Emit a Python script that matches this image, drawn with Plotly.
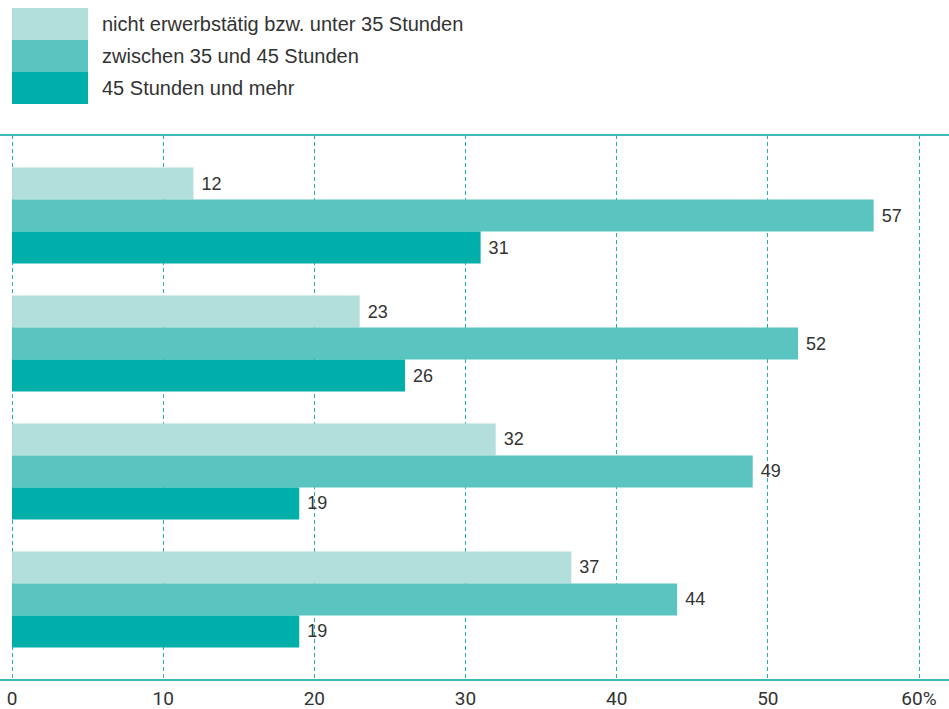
import plotly.graph_objects as go

categories = ["Gruppe 1", "Gruppe 2", "Gruppe 3", "Gruppe 4"]
series_names = ["nicht erwerbstätig bzw. unter 35 Stunden",
                "zwischen 35 und 45 Stunden",
                "45 Stunden und mehr"]
val_unter35 = [12, 23, 32, 37]
val_35_45 = [57, 52, 49, 44]
val_ueber45 = [31, 26, 19, 19]
tick_vals = [0, 10, 20, 30, 40, 50, 60]
tick_labels = ["0", "10", "20", "30", "40", "50", "60%"]

colors = ["#b2dedb", "#59c4c0", "#00aeaa"]
teal_line = "#3dbab3"
W, H = 949, 709
top_px, bot_px = 135, 680
plot_h = bot_px - top_px


def py(ypx):
    return (bot_px - ypx) / plot_h


fig = go.Figure()
for name, vals, col in zip(series_names, [val_unter35, val_35_45, val_ueber45], colors):
    fig.add_trace(go.Bar(
        y=categories, x=vals, name=name, orientation="h",
        marker=dict(color=col, line=dict(width=0)),
        text=["\u00a0" + str(v) for v in vals], textposition="outside",
        textfont=dict(family="Liberation Sans", size=18, color="#333333"),
        cliponaxis=False, showlegend=False,
    ))

# legend drawn manually
for i, (name, col) in enumerate(zip(series_names, colors)):
    y0 = 8 + 32 * i
    fig.add_shape(type="rect", xref="paper", yref="paper",
                  x0=12 / W, x1=88 / W, y0=py(y0 + 32), y1=py(y0),
                  fillcolor=col, line=dict(width=0), layer="above")
    fig.add_annotation(text=name, xref="paper", yref="paper",
                       x=100 / W, y=py(y0 + 16),
                       xanchor="left", yanchor="middle", showarrow=False,
                       font=dict(family="Liberation Sans", size=20, color="#333333"))

# top & bottom full-width lines
for yd in (1, 0):
    fig.add_shape(type="line", xref="paper", yref="paper",
                  x0=0, x1=1, y0=yd, y1=yd, line=dict(color=teal_line, width=2))

px_per = (919 - 12) / 60
fig.update_layout(
    width=W, height=H,
    margin=dict(l=0, r=0, t=top_px, b=H - bot_px),
    barmode="group", bargap=0.25, bargroupgap=0,
    plot_bgcolor="white", paper_bgcolor="white",
    xaxis=dict(range=[-12 / px_per, 60 + (W - 919) / px_per],
               tickvals=tick_vals, ticktext=tick_labels,
               showgrid=True, gridcolor="#1fb3ab", griddash="4px,3px", gridwidth=1,
               zeroline=False, showline=False, ticks="", ticklabelstandoff=5,
               tickfont=dict(family="Roboto", size=19, color="#333333")),
    yaxis=dict(range=[3.63, -0.63], showticklabels=False, showgrid=False,
               zeroline=False, showline=False),
)
fig.write_html("out.html")
